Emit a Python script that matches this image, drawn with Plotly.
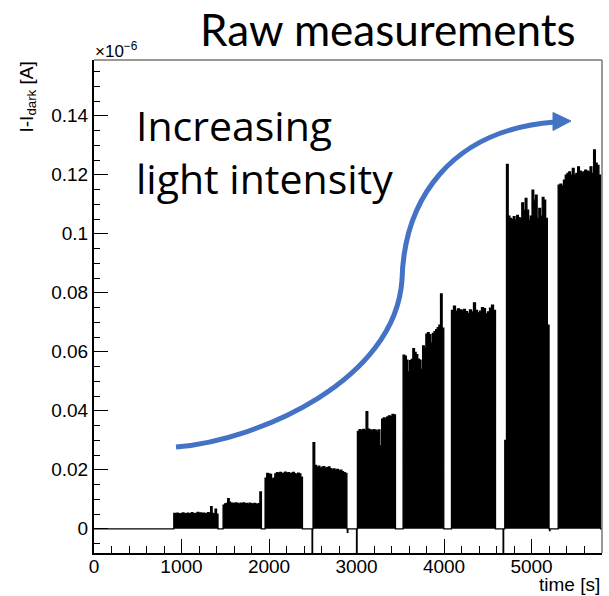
import numpy as np
import plotly.graph_objects as go

# ---------------- data (current in units of 1e-6 A, time in s) ----------------
step_start = [912, 1475, 1955, 2503, 3010, 3532, 4085, 4694, 5304]
step_end = [1417, 1913, 2382, 2890, 3445, 3997, 4588, 5200, 5790]

step1 = [0.0052, 0.0050, 0.0053, 0.0051, 0.0049, 0.0052, 0.0054, 0.0050, 0.0051, 0.0053,
         0.0049, 0.0052, 0.0055, 0.0051, 0.0050, 0.0053, 0.0056, 0.0052, 0.0054, 0.0051,
         0.0053, 0.0050, 0.0052, 0.0055, 0.0051, 0.0075, 0.0052, 0.0049, 0.0067, 0.0050]
step2 = [0.0080, 0.0084, 0.0086, 0.0102, 0.0090, 0.0085, 0.0087, 0.0084, 0.0088, 0.0086,
         0.0083, 0.0087, 0.0085, 0.0088, 0.0084, 0.0086, 0.0083, 0.0087, 0.0085, 0.0082,
         0.0086, 0.0084, 0.0083, 0.0085, 0.0125]
step3 = [0.0172, 0.0188, 0.0186, 0.0184, 0.0168, 0.0172, 0.0186, 0.0190, 0.0188, 0.0191,
         0.0187, 0.0189, 0.0192, 0.0188, 0.0190, 0.0186, 0.0189, 0.0191, 0.0187, 0.0183,
         0.0189, 0.0186, 0.0175]
step4 = [0.0292, 0.0215, 0.0208, 0.0212, 0.0206, 0.0209, 0.0211, 0.0205, 0.0207, 0.0210,
         0.0204, 0.0200, 0.0203, 0.0198, 0.0201, 0.0196, 0.0199, 0.0194, 0.0190, 0.0188]
step5 = [0.0330, 0.0336, 0.0333, 0.0337, 0.0334, 0.0397, 0.0338, 0.0335, 0.0332, 0.0336,
         0.0334, 0.0331, 0.0335, 0.0281, 0.0372, 0.0376, 0.0374, 0.0379, 0.0383, 0.0381,
         0.0388, 0.0386]
step6 = [0.0589, 0.0585, 0.0572, 0.0532, 0.0570, 0.0574, 0.0611, 0.0598, 0.0590, 0.0575,
         0.0572, 0.0540, 0.0620, 0.0612, 0.0660, 0.0665, 0.0658, 0.0630, 0.0662, 0.0668,
         0.0675, 0.0682, 0.0690, 0.0796, 0.0680]
step7 = [0.0740, 0.0755, 0.0738, 0.0745, 0.0742, 0.0740, 0.0744, 0.0736, 0.0730, 0.0742,
         0.0735, 0.0766, 0.0740, 0.0732, 0.0738, 0.0750, 0.0746, 0.0728, 0.0735, 0.0748,
         0.0758, 0.0740]
step8 = [0.0300, 0.1235, 0.1060, 0.1052, 0.1048, 0.1058, 0.1046, 0.1062, 0.1055, 0.1050,
         0.1105, 0.1080, 0.1120, 0.1080, 0.1046, 0.1060, 0.1148, 0.1114, 0.1131, 0.1052,
         0.1086, 0.1060, 0.1123, 0.1114, 0.1052, 0.0690]
step9 = [0.1165, 0.1168, 0.1162, 0.1182, 0.1199, 0.1205, 0.1210, 0.1199, 0.1222, 0.1199,
         0.1205, 0.1227, 0.1212, 0.1208, 0.1210, 0.1216, 0.1212, 0.1210, 0.1227, 0.1205,
         0.1284, 0.1239, 0.1232, 0.1199]
step_values = [step1, step2, step3, step4, step5, step6, step7, step8, step9]

# short negative transients between the steps
dip_time = [2492, 2895, 3000, 4675, 5205]
dip_value = [-0.0085, -0.0012, -0.0085, -0.0085, -0.0006]

x_ticks = [0, 1000, 2000, 3000, 4000, 5000]
y_ticks = [0, 0.02, 0.04, 0.06, 0.08, 0.1, 0.12, 0.14]

# ---------------- build the step series ----------------
events = [(s, "step", e, v) for s, e, v in zip(step_start, step_end, step_values)]
events += [(t, "dip", None, v) for t, v in zip(dip_time, dip_value)]
events.sort(key=lambda ev: ev[0])

xs, ys = [0.0], [0.0]
for start, kind, end, vals in events:
    if kind == "step":
        times = np.linspace(start, end, len(vals) + 1)
        for t, v in zip(times[:-1], vals):
            xs.append(float(t)); ys.append(v)
        xs.append(end); ys.append(0.0)
    else:
        xs.append(start); ys.append(vals)
        xs.append(start + 6); ys.append(0.0)
xs.append(5805); ys.append(0.0)

# ---------------- figure ----------------
W, H = 609, 596
L, R, T, B = 94, 7, 60, 43
X0, X1, Y0, Y1 = L, W - R, T, H - B


def paper(px_, py_):
    return (px_ - X0) / (X1 - X0), (Y1 - py_) / (Y1 - Y0)


fig = go.Figure()
fig.add_trace(go.Scatter(
    x=xs, y=ys, mode="lines", line=dict(color="black", width=1.3, shape="hv"),
    fill="tozeroy", fillcolor="black", hoverinfo="skip", showlegend=False))

tick_font = dict(family="Liberation Sans, Arial, sans-serif", size=19, color="black")
fig.update_xaxes(range=[0, 5805], tickvals=x_ticks, ticks="inside", ticklen=14, tickwidth=1.3,
                 tickcolor="black", showline=True, linecolor="black", linewidth=2,
                 showgrid=False, zeroline=False, tickfont=tick_font, ticklabelstandoff=-5,
                 minor=dict(dtick=200, ticks="inside", ticklen=7, tickwidth=1.3, tickcolor="black"))
fig.update_yaxes(range=[-0.0082, 0.1589], tickvals=y_ticks, ticks="inside", ticklen=14, tickwidth=1.3,
                 tickcolor="black", showline=True, linecolor="black", linewidth=2,
                 showgrid=False, zeroline=False, tickfont=tick_font,
                 minor=dict(dtick=0.005, ticks="inside", ticklen=6, tickwidth=1.3, tickcolor="black"))

# gray frame on top/right
fig.add_shape(type="line", xref="paper", yref="paper", x0=0, x1=1, y0=1, y1=1,
              line=dict(color="#777777", width=1.5))
fig.add_shape(type="line", xref="paper", yref="paper", x0=1, x1=1, y0=0, y1=1,
              line=dict(color="#777777", width=1.5))

# blue arrow
blue = "#4472C4"
pts = [(176, 447), (260, 440), (395, 380), (402, 280), (404, 200), (450, 130), (555, 122)]
pp = [paper(*p) for p in pts]
path = "M {} {} C {} {}, {} {}, {} {} C {} {}, {} {}, {} {}".format(
    *[c for p in pp for c in p])
fig.add_shape(type="path", xref="paper", yref="paper", path=path,
              line=dict(color=blue, width=5))
hp = [paper(553, 112.5), paper(571, 121), paper(553, 130.5)]
fig.add_shape(type="path", xref="paper", yref="paper",
              path="M {} {} L {} {} L {} {} Z".format(*[c for p in hp for c in p]),
              fillcolor=blue, line=dict(color=blue, width=1))

title_font = dict(family="Lato, Open Sans, sans-serif", size=44, color="black")
ax, ay = paper(388, 28.5)
fig.add_annotation(x=ax, y=ay, xref="paper", yref="paper", text="Raw measurements",
                   showarrow=False, font=title_font, xanchor="center", yanchor="middle",
                   height=46, valign="middle")
big_font = dict(family="Open Sans, Noto Sans, sans-serif", size=41, color="black")
ax, ay = paper(134, 151)
fig.add_annotation(x=ax, y=ay, xref="paper", yref="paper",
                   text="Increasing<br>light intensity", align="left",
                   showarrow=False, font=big_font, xanchor="left", yanchor="middle")

lab_font = dict(family="Liberation Sans, Arial, sans-serif", size=19, color="black")
ax, ay = paper(602, 584)
fig.add_annotation(x=ax, y=ay, xref="paper", yref="paper", text="time [s]",
                   showarrow=False, font=lab_font, xanchor="right", yanchor="middle")
ax, ay = paper(27, 60)
fig.add_annotation(x=ax, y=ay, xref="paper", yref="paper", text="I-I<sub>dark</sub> [A]",
                   textangle=-90, showarrow=False, font=lab_font, xanchor="center", yanchor="top")
ax, ay = paper(93, 50)
fig.add_annotation(x=ax, y=ay, xref="paper", yref="paper", text="×10<sup>−6</sup>",
                   showarrow=False, font=dict(family="Liberation Sans, Arial, sans-serif", size=17,
                                              color="black"), xanchor="left", yanchor="middle")

fig.update_layout(width=W, height=H, margin=dict(l=L, r=R, t=T, b=B, pad=0),
                  plot_bgcolor="white", paper_bgcolor="white")

fig.write_html("out.html")
